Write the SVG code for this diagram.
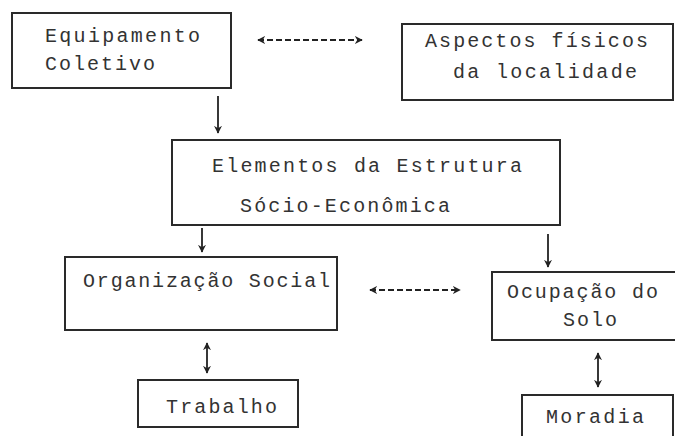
<svg xmlns="http://www.w3.org/2000/svg" width="675" height="436" viewBox="0 0 675 436">
<style>
.box{fill:#fff;stroke:#2a2a2a;stroke-width:2}
.t{font-family:"Liberation Mono","DejaVu Sans Mono",monospace;font-size:20px;fill:#333}
.c{stroke:#222;stroke-width:1.8;fill:none}
.d{stroke-dasharray:6 3}
</style>
<defs>
<marker id="ah" viewBox="0 0 10 10" refX="9" refY="5" markerWidth="8" markerHeight="8" orient="auto-start-reverse" markerUnits="userSpaceOnUse">
<path d="M0,0 L10,5 L0,10 L3,5 z" fill="#222"/>
</marker>
</defs>
<rect width="675" height="436" fill="#fff"/>
<g id="connectors">
<line class="c d" x1="258" y1="40" x2="362" y2="40" marker-start="url(#ah)" marker-end="url(#ah)"/>
<line class="c" x1="218" y1="96" x2="218" y2="133" marker-end="url(#ah)"/>
<line class="c" x1="202" y1="228" x2="202" y2="252" marker-end="url(#ah)"/>
<line class="c" x1="548" y1="234" x2="548" y2="267" marker-end="url(#ah)"/>
<line class="c d" x1="370" y1="290" x2="460" y2="290" marker-start="url(#ah)" marker-end="url(#ah)"/>
<line class="c" x1="207" y1="343" x2="207" y2="373" marker-start="url(#ah)" marker-end="url(#ah)"/>
<line class="c" x1="598" y1="353" x2="598" y2="387" marker-start="url(#ah)" marker-end="url(#ah)"/>
</g>
<g id="equipamento">
<rect class="box" x="12" y="13" width="219" height="75"/>
<text class="t" x="45" y="42" textLength="155" lengthAdjust="spacing">Equipamento</text>
<text class="t" x="45" y="70" textLength="110" lengthAdjust="spacing">Coletivo</text>
</g>
<g id="aspectos">
<rect class="box" x="402" y="24" width="271" height="76"/>
<text class="t" x="425" y="47" textLength="223" lengthAdjust="spacing">Aspectos físicos</text>
<text class="t" x="453" y="78" textLength="184" lengthAdjust="spacing">da localidade</text>
</g>
<g id="elementos">
<rect class="box" x="172" y="140" width="388" height="85"/>
<text class="t" x="212" y="172" textLength="310" lengthAdjust="spacing">Elementos da Estrutura</text>
<text class="t" x="240" y="212" textLength="210" lengthAdjust="spacing">Sócio-Econômica</text>
</g>
<g id="organizacao">
<rect class="box" x="65" y="257" width="272" height="73"/>
<text class="t" x="83" y="287" textLength="247" lengthAdjust="spacing">Organização Social</text>
</g>
<g id="ocupacao">
<rect class="box" x="492" y="272" width="200" height="68"/>
<text class="t" x="507" y="298" textLength="151" lengthAdjust="spacing">Ocupação do</text>
<text class="t" x="563" y="326" textLength="54" lengthAdjust="spacing">Solo</text>
</g>
<g id="trabalho">
<rect class="box" x="138" y="380" width="160" height="47"/>
<text class="t" x="166" y="413" textLength="111" lengthAdjust="spacing">Trabalho</text>
</g>
<g id="moradia">
<rect class="box" x="522" y="395" width="151" height="60"/>
<text class="t" x="546" y="423" textLength="98" lengthAdjust="spacing">Moradia</text>
</g>
</svg>
